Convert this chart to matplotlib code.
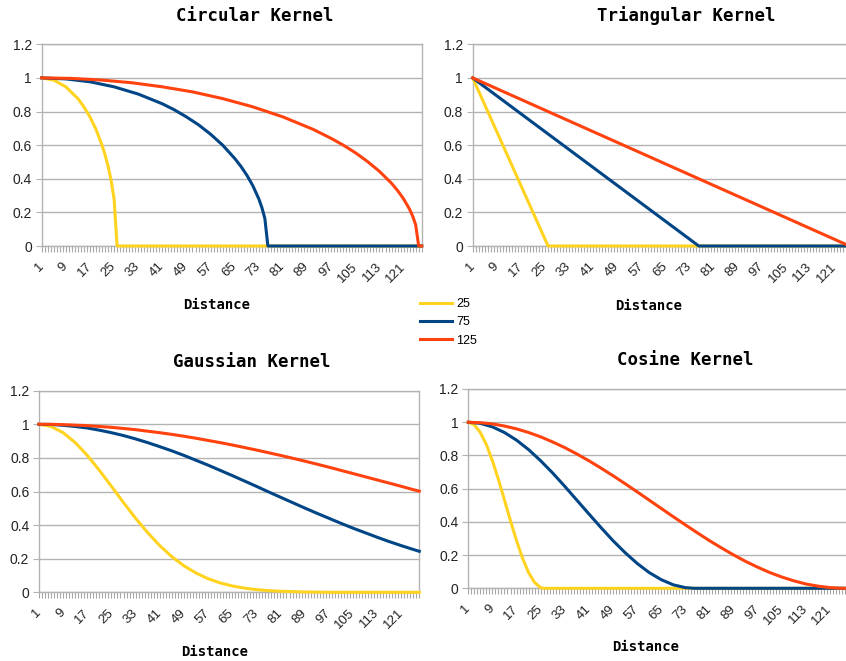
import matplotlib
matplotlib.use("Agg")
import matplotlib.pyplot as plt

W, H = 846, 661

# ---- data ----
bandwidths = ["25", "75", "125"]
colors = ["#FFD320", "#004586", "#FF420E"]

x_ticks_labels = [1, 9, 17, 25, 33, 41, 49, 57, 65, 73, 81, 89, 97, 105, 113, 121]
y_tick_labels = ["0", "0.2", "0.4", "0.6", "0.8", "1", "1.2"]

# Circular kernel
circ_x_25 = [1, 5, 9, 13, 15, 17, 19, 21, 22, 23, 24, 25, 26, 127]
circ_25 = [1, 0.987, 0.947, 0.877, 0.828, 0.768, 0.694, 0.600, 0.543, 0.475, 0.392, 0.280, 0, 0]
circ_x_75 = [1, 9, 17, 25, 33, 41, 45, 49, 53, 57, 61, 65, 67, 69, 71, 73, 74, 75, 76, 127]
circ_75 = [1, 0.994, 0.977, 0.947, 0.904, 0.846, 0.810, 0.768, 0.721, 0.665, 0.600, 0.521,
           0.475, 0.422, 0.359, 0.280, 0.229, 0.163, 0, 0]
circ_x_125 = [1, 11, 21, 31, 41, 51, 61, 71, 81, 91, 97, 101, 105, 109, 113, 117, 119, 121,
              123, 124, 125, 126, 127]
circ_125 = [1, 0.997, 0.987, 0.971, 0.947, 0.917, 0.877, 0.828, 0.768, 0.694, 0.640, 0.600,
            0.555, 0.503, 0.444, 0.373, 0.330, 0.280, 0.218, 0.178, 0.126, 0, 0]

# Triangular kernel
tri_x_25 = [1, 26, 127]
tri_25 = [1, 0, 0]
tri_x_75 = [1, 76, 127]
tri_75 = [1, 0, 0]
tri_x_125 = [1, 126, 127]
tri_125 = [1, 0, 0]

# Gaussian kernel
gauss_x = list(range(1, 126, 4)) + [127]
gauss_25 = [1, 0.987, 0.950, 0.891, 0.815, 0.726, 0.631, 0.534, 0.441, 0.355, 0.278,
            0.212, 0.158, 0.115, 0.081, 0.056, 0.038, 0.025, 0.016, 0.010, 0.006,
            0.004, 0.002, 0.001, 0, 0, 0, 0, 0, 0, 0, 0, 0]
gauss_75 = [1, 0.999, 0.994, 0.987, 0.978, 0.965, 0.950, 0.933, 0.913, 0.891, 0.867,
            0.842, 0.815, 0.786, 0.757, 0.726, 0.695, 0.663, 0.631, 0.598, 0.566,
            0.534, 0.502, 0.471, 0.441, 0.411, 0.382, 0.355, 0.328, 0.302, 0.278,
            0.255, 0.244]
gauss_125 = [1, 1.000, 0.998, 0.995, 0.992, 0.987, 0.982, 0.975, 0.968, 0.959, 0.950,
             0.940, 0.929, 0.917, 0.904, 0.891, 0.877, 0.862, 0.847, 0.831, 0.815,
             0.798, 0.781, 0.763, 0.745, 0.726, 0.707, 0.688, 0.669, 0.650, 0.631,
             0.611, 0.602]

# Cosine kernel
cos_x_25 = [1, 3, 5, 7, 9, 11, 13, 15, 17, 19, 21, 23, 25, 26, 127]
cos_25 = [1, 0.984, 0.938, 0.865, 0.768, 0.655, 0.531, 0.406, 0.287, 0.181, 0.095, 0.035,
          0.004, 0, 0]
cos_x_75 = list(range(1, 74, 4)) + [76, 127]
cos_75 = [1, 0.993, 0.972, 0.938, 0.892, 0.835, 0.768, 0.694, 0.614, 0.531,
          0.448, 0.366, 0.287, 0.215, 0.150, 0.095, 0.052, 0.021, 0.004, 0, 0]
cos_x_125 = list(range(1, 126, 4)) + [127]
cos_125 = [1, 0.997, 0.990, 0.977, 0.960, 0.938, 0.912, 0.881, 0.847, 0.809, 0.768,
           0.724, 0.678, 0.630, 0.581, 0.531, 0.481, 0.431, 0.382, 0.334, 0.287,
           0.243, 0.201, 0.162, 0.127, 0.095, 0.068, 0.045, 0.026, 0.013, 0.004,
           0, 0]

panels = [
    ("Circular Kernel", [(circ_x_25, circ_25), (circ_x_75, circ_75), (circ_x_125, circ_125)]),
    ("Triangular Kernel", [(tri_x_25, tri_25), (tri_x_75, tri_75), (tri_x_125, tri_125)]),
    ("Gaussian Kernel", [(gauss_x, gauss_25), (gauss_x, gauss_75), (gauss_x, gauss_125)]),
    ("Cosine Kernel", [(cos_x_25, cos_25), (cos_x_75, cos_75), (cos_x_125, cos_125)]),
]

# ---- layout (pixels) ----
boxes = [
    (41.7, 421.7, 44.3, 246.0),
    (472.7, 852.5, 44.3, 246.0),
    (39.0, 419.3, 390.7, 592.3),
    (468.3, 848.1, 389.0, 588.3),
]
title_pos = [(255, 16), (686, 16), (252, 362), (685.5, 360)]
xlabel_pos = [(217, 305), (649, 306), (214.5, 652), (645.5, 647)]

GRID = "#b3b3b3"
fig = plt.figure(figsize=(W / 100, H / 100), dpi=100)
fig.patch.set_facecolor("white")

handles = None
for (title, series), (l, r, t, b), tp, xp in zip(panels, boxes, title_pos, xlabel_pos):
    ax = fig.add_axes([l / W, 1 - b / H, (r - l) / W, (b - t) / H])
    hs = []
    for (xs, ys), c, lab in zip(series, colors, bandwidths):
        h, = ax.plot(xs, ys, color=c, lw=2.2, label=lab, clip_on=False, zorder=3,
                     solid_joinstyle="round")
        hs.append(h)
    handles = hs
    ax.set_xlim(1, 127)
    ax.set_ylim(0, 1.2)
    ax.set_yticks([0, 0.2, 0.4, 0.6, 0.8, 1.0, 1.2])
    ax.set_yticklabels(y_tick_labels, fontfamily="Liberation Sans", fontsize=10,
                       color="#222222")
    ax.set_xticks(list(range(1, 128)))
    ax.set_xticklabels([str(i) if i in x_ticks_labels else "" for i in range(1, 128)],
                       fontfamily="Liberation Sans", fontsize=9.5, rotation=45,
                       ha="right", va="center", rotation_mode="anchor", color="#222222")
    ax.tick_params(axis="x", direction="out", length=4.5, width=0.8, color="#a8a8a8", pad=9)
    ax.tick_params(axis="y", direction="out", length=4, width=0.8, color=GRID, pad=3)
    ax.grid(axis="y", color=GRID, lw=1)
    ax.set_axisbelow(True)
    for s in ax.spines.values():
        s.set_color(GRID)
        s.set_linewidth(1)
    fig.text(tp[0] / W, 1 - tp[1] / H, title, fontfamily="DejaVu Sans Mono",
             fontweight="bold", fontsize=12.5, ha="center", va="center")
    fig.text(xp[0] / W, 1 - xp[1] / H, "Distance", fontfamily="DejaVu Sans Mono",
             fontweight="bold", fontsize=10, ha="center", va="center")

fig.legend(handles, bandwidths, loc="upper left",
           bbox_to_anchor=(420 / W, 1 - 298 / H), frameon=False, borderpad=0,
           borderaxespad=0, handlelength=2.55, handletextpad=0.35, labelspacing=0.5,
           prop={"family": "Liberation Sans", "size": 9})

fig.savefig("out.png", dpi=100, facecolor="white")
